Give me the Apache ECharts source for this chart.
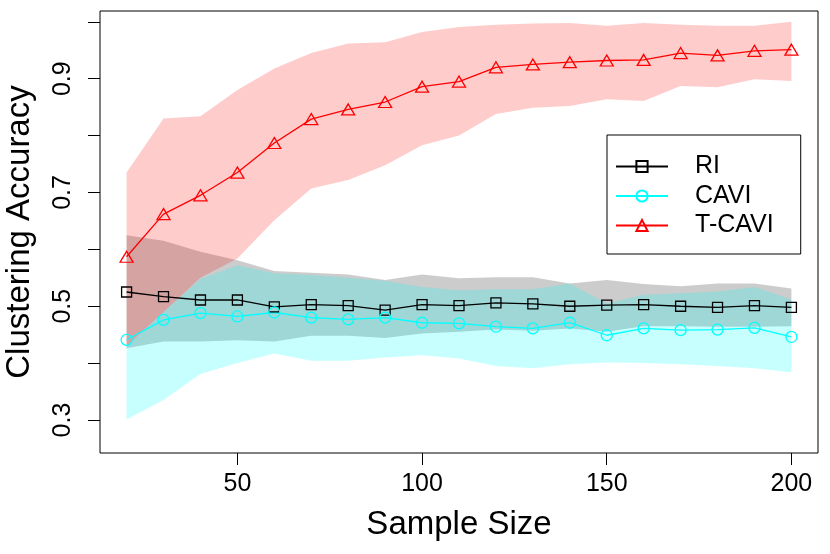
<!DOCTYPE html>
<html>
<head>
<meta charset="utf-8">
<script src="https://cdn.jsdelivr.net/npm/echarts@6/dist/echarts.min.js"></script>
<style>
  html, body { margin: 0; padding: 0; background: #fff; }
  #chart { width: 830px; height: 554px; }
</style>
</head>
<body>
<div id="chart"></div>
<script>
// sample sizes on the x axis
var sizes = [20, 30, 40, 50, 60, 70, 80, 90, 100, 110, 120, 130, 140, 150, 160, 170, 180, 190, 200];

// RI
var riMean = [0.525, 0.517, 0.511, 0.511, 0.499, 0.503, 0.501, 0.493, 0.503, 0.501, 0.506, 0.504, 0.500, 0.502, 0.503, 0.500, 0.498, 0.501, 0.498];
var riHigh = [0.625, 0.615, 0.596, 0.581, 0.562, 0.559, 0.556, 0.546, 0.556, 0.549, 0.551, 0.551, 0.540, 0.546, 0.539, 0.535, 0.540, 0.540, 0.531];
var riLow  = [0.426, 0.438, 0.438, 0.440, 0.438, 0.448, 0.448, 0.444, 0.452, 0.455, 0.459, 0.457, 0.461, 0.455, 0.465, 0.465, 0.464, 0.464, 0.465];

// CAVI
var caviMean = [0.441, 0.476, 0.488, 0.482, 0.489, 0.480, 0.477, 0.480, 0.471, 0.470, 0.464, 0.461, 0.471, 0.449, 0.461, 0.458, 0.459, 0.462, 0.446];
var caviHigh = [0.430, 0.490, 0.548, 0.572, 0.558, 0.555, 0.550, 0.545, 0.534, 0.528, 0.530, 0.530, 0.540, 0.505, 0.520, 0.523, 0.526, 0.534, 0.512];
var caviLow  = [0.301, 0.335, 0.381, 0.400, 0.417, 0.404, 0.404, 0.410, 0.414, 0.408, 0.395, 0.391, 0.398, 0.401, 0.400, 0.398, 0.395, 0.391, 0.384];

// T-CAVI
var tcaviMean = [0.587, 0.662, 0.695, 0.735, 0.787, 0.829, 0.846, 0.859, 0.886, 0.895, 0.920, 0.925, 0.929, 0.932, 0.933, 0.945, 0.941, 0.949, 0.951];
var tcaviHigh = [0.735, 0.830, 0.834, 0.880, 0.918, 0.945, 0.962, 0.964, 0.982, 0.991, 0.995, 0.997, 0.998, 0.993, 0.998, 0.995, 0.993, 0.993, 1.000];
var tcaviLow  = [0.430, 0.490, 0.550, 0.584, 0.651, 0.707, 0.722, 0.748, 0.783, 0.800, 0.838, 0.849, 0.852, 0.864, 0.861, 0.887, 0.885, 0.899, 0.896];

// tick labels
var xTicks = [50, 100, 150, 200];
var yTicks = [0.3, 0.4, 0.5, 0.6, 0.7, 0.8, 0.9, 1.0];
var yLabels = [0.3, 0.5, 0.7, 0.9];

var FONT = 'Liberation Sans, Arial, sans-serif';

function pairs(ys) {
  var out = [];
  for (var i = 0; i < sizes.length; i++) out.push([sizes[i], ys[i]]);
  return out;
}

// shaded band: one polygon, upper edge then lower edge backwards
function band(key, lo, hi, fill) {
  return {
    name: key + '_band', type: 'custom', silent: true,
    data: [[sizes[0], lo[0]]],
    renderItem: function (params, api) {
      var pts = [];
      for (var i = 0; i < sizes.length; i++) pts.push(api.coord([sizes[i], hi[i]]));
      for (var j = sizes.length - 1; j >= 0; j--) pts.push(api.coord([sizes[j], lo[j]]));
      return { type: 'polygon', shape: { points: pts }, style: { fill: fill } };
    }
  };
}

function meanLine(name, ys, color, symbol, size) {
  return {
    name: name, type: 'line', data: pairs(ys),
    symbol: symbol, symbolSize: size, showAllSymbol: true,
    lineStyle: { color: color, width: 1.3 },
    itemStyle: { color: 'rgba(0,0,0,0)', borderColor: color, borderWidth: 1.3 },
    emphasis: { disabled: true }
  };
}

var series = [
  band('ri', riLow, riHigh, 'rgba(0,0,0,0.2)'),
  meanLine('RI', riMean, '#000000', 'rect', 10),
  band('cavi', caviLow, caviHigh, 'rgba(0,255,255,0.22)'),
  meanLine('CAVI', caviMean, '#00FFFF', 'circle', 11),
  band('tcavi', tcaviLow, tcaviHigh, 'rgba(255,0,0,0.2)'),
  meanLine('T-CAVI', tcaviMean, '#FF0000', 'triangle', [13, 11])
];

var myChart = echarts.init(document.getElementById('chart'));
var option = {
  animation: false,
  backgroundColor: '#fff',
  grid: {
    show: true, left: 100, right: 12, top: 11, bottom: 101,
    outerBoundsMode: 'none', containLabel: false,
    borderColor: '#000', borderWidth: 1, backgroundColor: 'transparent'
  },
  legend: {
    data: ['RI', 'CAVI', 'T-CAVI'],
    orient: 'vertical',
    left: 607, top: 135,
    padding: [19, 27, 16, 8],
    itemGap: 4.5, itemWidth: 52, itemHeight: 14,
    borderColor: '#000', borderWidth: 1,
    selectedMode: false,
    textStyle: { fontFamily: FONT, fontSize: 25, color: '#000', padding: [0, 0, 0, 22] }
  },
  xAxis: {
    type: 'value', min: 12.8, max: 207.2,
    name: 'Sample Size', nameLocation: 'middle', nameGap: 55,
    nameTextStyle: { fontFamily: FONT, fontSize: 33, color: '#000' },
    axisLine: { show: false },
    axisTick: { show: true, customValues: xTicks, length: 12, lineStyle: { color: '#000' } },
    axisLabel: { customValues: xTicks, fontFamily: FONT, fontSize: 25, color: '#000', margin: 19 },
    splitLine: { show: false }
  },
  yAxis: {
    type: 'value', min: 0.242, max: 1.019,
    name: 'Clustering Accuracy', nameLocation: 'middle', nameGap: 64,
    nameTextStyle: { fontFamily: FONT, fontSize: 33, color: '#000' },
    axisLine: { show: false },
    axisTick: { show: true, customValues: yTicks, length: 12, lineStyle: { color: '#000' } },
    axisLabel: {
      customValues: yLabels, rotate: 90, fontFamily: FONT, fontSize: 25, color: '#000', margin: 24,
      formatter: function (v) { return v.toFixed(1); }
    },
    splitLine: { show: false }
  },
  series: series
};
myChart.setOption(option);
</script>
</body>
</html>
